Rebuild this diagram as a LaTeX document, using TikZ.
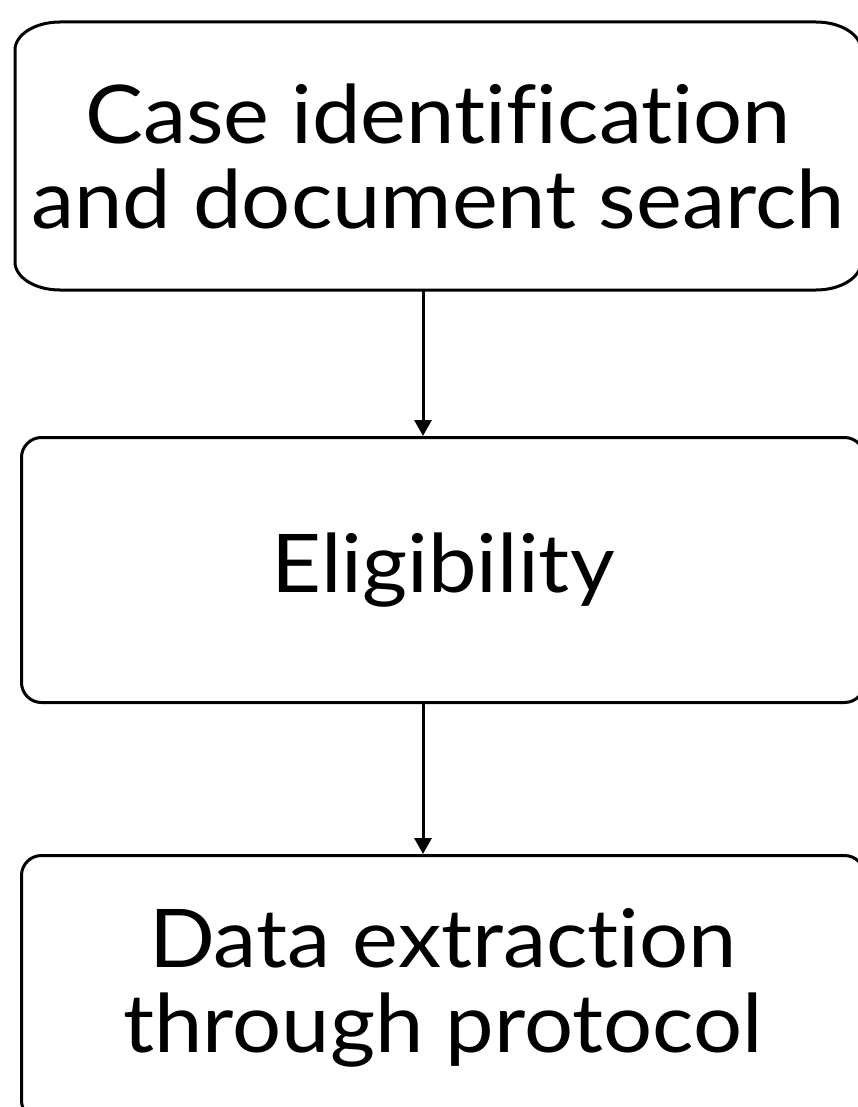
\documentclass[tikz,border=0pt]{standalone}
\usepackage{fontspec}
\setmainfont{Lato}[FakeStretch=1.07, Ligatures={NoCommon, NoDiscretionary}]
\usepackage{tikz}
\usetikzlibrary{arrows.meta, positioning}

\begin{document}
\begin{tikzpicture}[x=1pt, y=-1pt,
    stage/.style={rectangle, line width=3pt, align=center, inner sep=0pt,
      minimum width=843pt, minimum height=265pt, anchor=north west,
      font=\fontsize{81}{85}\selectfont},
    flow/.style={line width=3pt, -{Triangle[width=17pt, length=16pt]}}]
  \useasboundingbox (0,0) rectangle (858,1107);
  % Search panel (wider corners)
  \node[stage] (search) at (15,22) {Case identification\\and document search};
  \draw[line width=3pt]
    ([xshift=45pt]search.north west) -- ([xshift=-45pt]search.north east)
    arc[start angle=90, end angle=0, x radius=45pt, y radius=28pt]
    -- ([yshift=28pt]search.south east)
    arc[start angle=0, end angle=-90, x radius=45pt, y radius=28pt]
    -- ([xshift=45pt]search.south west)
    arc[start angle=270, end angle=180, x radius=45pt, y radius=28pt]
    -- ([yshift=-28pt]search.north west)
    arc[start angle=180, end angle=90, x radius=45pt, y radius=28pt];
  % Eligibility panel
  \node[stage, draw, rounded corners=20pt] (elig) at (20,436) {Eligibility};
  % Extraction panel
  \node[stage, draw, rounded corners=20pt] (extract) at (20,854)
    {Data extraction\\through protocol};
  % Connectors
  \draw[flow] (search.south -| 423,0) -- (elig.north -| 423,0);
  \draw[flow] (elig.south -| 423,0) -- (extract.north -| 423,0);
\end{tikzpicture}
\end{document}
